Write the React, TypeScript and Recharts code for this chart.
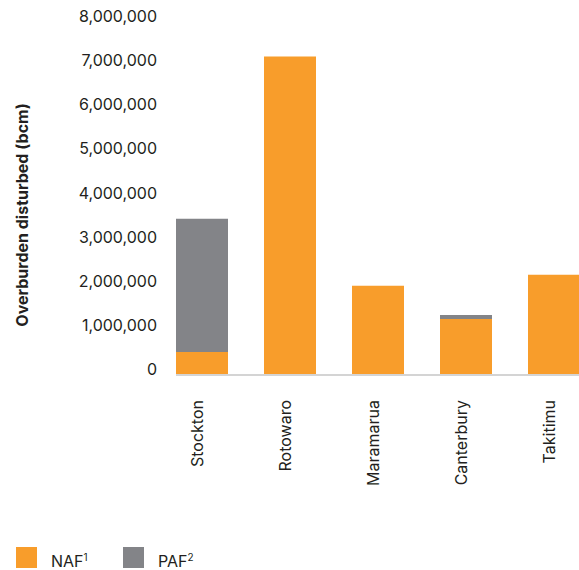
import React from 'react';
import { BarChart, Bar, XAxis, YAxis, Legend, Label } from 'recharts';

const mines = ['Stockton', 'Rotowaro', 'Maramarua', 'Canterbury', 'Takitimu'];
const nafValues = [520000, 7220000, 2020000, 1270000, 2270000];
const pafValues = [3020000, 0, 0, 90000, 0];
const yTicks = [0, 1000000, 2000000, 3000000, 4000000, 5000000, 6000000, 7000000, 8000000];

const data = mines.map((name, i) => ({ name, naf: nafValues[i], paf: pafValues[i] }));

const ORANGE = '#F89D2B';
const GREY = '#838488';
const TEXT = '#231F20';
const FONT = 'Inter, "Noto Sans", sans-serif';

const YTick = ({ x, y, payload }: any) => (
  <text x={x} y={y - 6} textAnchor="end" dominantBaseline="central" fill={TEXT} fontSize={16} fontFamily={FONT}>
    {payload.value.toLocaleString('en-US')}
  </text>
);

const XTick = ({ x, y, payload }: any) => (
  <text
    transform={`translate(${x - 5},${y + 25}) rotate(-90)`}
    textAnchor="end"
    dominantBaseline="central"
    fill={TEXT}
    fontSize={16}
    fontFamily={FONT}
  >
    {payload.value}
  </text>
);

const AxisTitle = () => (
  <text
    transform="translate(14,215) rotate(-90)"
    textAnchor="middle"
    dominantBaseline="central"
    fill={TEXT}
    fontSize={16}
    fontWeight={700}
    fontFamily={FONT}
  >
    Overburden disturbed (bcm)
  </text>
);

const LegendBox = () => (
  <div style={{ height: 40, position: 'relative', fontFamily: FONT, fontSize: 16, color: TEXT }}>
    <div style={{ position: 'absolute', left: 8, top: 17, width: 21, height: 21, background: ORANGE }} />
    <div style={{ position: 'absolute', left: 43, top: 17, lineHeight: '21px' }}>
      NAF<sup style={{ fontSize: 10 }}>1</sup>
    </div>
    <div style={{ position: 'absolute', left: 115, top: 17, width: 21, height: 21, background: GREY }} />
    <div style={{ position: 'absolute', left: 150, top: 17, lineHeight: '21px' }}>
      PAF<sup style={{ fontSize: 10 }}>2</sup>
    </div>
  </div>
);

const App = () => {
  return (
    <div
      style={{
        position: 'fixed',
        left: 0,
        top: 0,
        width: 579,
        height: 570,
        overflow: 'hidden',
        padding: '0 0 0 8px',
        boxSizing: 'border-box',
        background: '#fff',
      }}
    >
      <BarChart width={640} height={570} data={data} margin={{ top: 22, right: 32, bottom: 0, left: 0 }} barSize={52}>
        <XAxis
          dataKey="name"
          padding={{ left: -18, right: 18 }}
          axisLine={{ stroke: '#D4D4D4', strokeWidth: 2 }}
          tickLine={false}
          tickSize={0}
          tickMargin={0}
          height={155}
          tick={<XTick />}
          interval={0}
        />
        <YAxis
          width={168}
          domain={[0, 8000000]}
          ticks={yTicks}
          axisLine={false}
          tickLine={false}
          tickSize={0}
          tickMargin={19}
          tick={<YTick />}
        >
          <Label content={<AxisTitle />} />
        </YAxis>
        <Legend verticalAlign="bottom" align="left" content={<LegendBox />} />
        <Bar dataKey="naf" stackId="a" fill={ORANGE} isAnimationActive={false} />
        <Bar dataKey="paf" stackId="a" fill={GREY} isAnimationActive={false} />
      </BarChart>
    </div>
  );
};

export default App;
